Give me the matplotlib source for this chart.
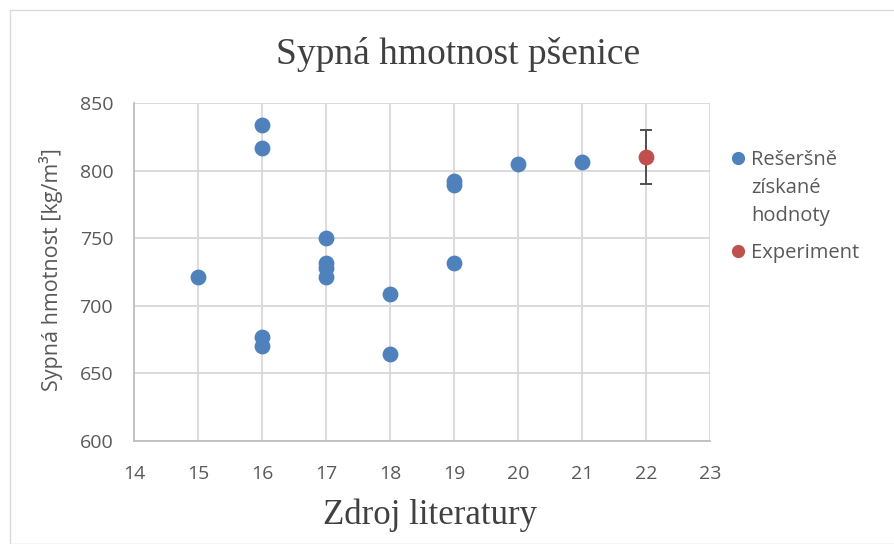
import matplotlib
matplotlib.use("Agg")
import matplotlib.pyplot as plt
from matplotlib.patches import Rectangle
from matplotlib.lines import Line2D

# Data
lit_x = [15, 16, 16, 16, 16, 17, 17, 17, 17, 18, 18, 19, 19, 19, 20, 21]
lit_y = [721, 834, 817, 677, 670, 750, 732, 728, 721, 708.5, 664, 792, 789, 732, 805, 806]
exp_x = [22]
exp_y = [810]
exp_err = [20]

title = "Sypná hmotnost pšenice"
xlabel = "Zdroj literatury"
ylabel = "Sypná hmotnost [kg/m³]"
series_names = ["Rešeršně\nzískané\nhodnoty", "Experiment"]
xticks = list(range(14, 24))
yticks = list(range(600, 851, 50))

blue = "#4F81BD"
red = "#C0504D"
txt = "#595959"

W, H = 895, 544
fig = plt.figure(figsize=(W / 100, H / 100), dpi=100)
ax = fig.add_axes([134 / W, 1 - 441 / H, (710 - 134) / W, (441 - 103) / H])

fig.patches.append(Rectangle((10 / W, 0), 1, 1 - 10 / H, transform=fig.transFigure,
                             fill=False, edgecolor="#D9D9D9", linewidth=1))

sans = ["Open Sans", "DejaVu Sans"]
serif = ["Liberation Serif", "DejaVu Serif"]

ax.scatter(lit_x, lit_y, s=130, color=blue, zorder=3, linewidths=0)
ax.errorbar(exp_x, exp_y, yerr=exp_err, fmt="none", ecolor="#505050", elinewidth=1.4,
            capsize=4.5, capthick=1.4, zorder=2)
ax.scatter(exp_x, exp_y, s=130, color=red, zorder=3, linewidths=0)

ax.set_xlim(14, 23)
ax.set_ylim(600, 850)
ax.set_xticks(xticks)
ax.set_yticks(yticks)
ax.grid(True, color="#D9D9D9", linewidth=1.3, zorder=0)
ax.set_axisbelow(True)
for s in ["top", "right"]:
    ax.spines[s].set_visible(False)
for s in ["left", "bottom"]:
    ax.spines[s].set_color("#BFBFBF")
    ax.spines[s].set_linewidth(1.3)
ax.tick_params(axis="x", length=0, pad=17, labelsize=14, labelcolor=txt)
ax.tick_params(axis="y", length=0, pad=15, labelsize=14, labelcolor=txt)
for lab in ax.get_xticklabels() + ax.get_yticklabels():
    lab.set_family(sans)

fig.text(458 / W, 1 - 54 / H, title, ha="center", va="center", fontsize=27,
         family=serif, color="#404040")
fig.text(430 / W, 1 - 515 / H, xlabel, ha="center", va="center", fontsize=25,
         family=serif, color="#404040")
fig.text(51 / W, 1 - 270 / H, ylabel, ha="center", va="center", rotation=90,
         fontsize=15.5, family=sans, color=txt)

# Legend (manual, to align marker with first text line)
leg_colors = [blue, red]
leg_y = [158, 251]
for name, col, yy in zip(series_names, leg_colors, leg_y):
    fig.add_artist(Line2D([738 / W], [1 - yy / H], transform=fig.transFigure,
                          marker="o", markersize=8.5, color=col, linestyle="none"))
    fig.text(751 / W, 1 - (yy - 8) / H, name, ha="left", va="top", fontsize=14.5,
             family=sans, color=txt, linespacing=1.52)

fig.savefig("out.png", dpi=100)
